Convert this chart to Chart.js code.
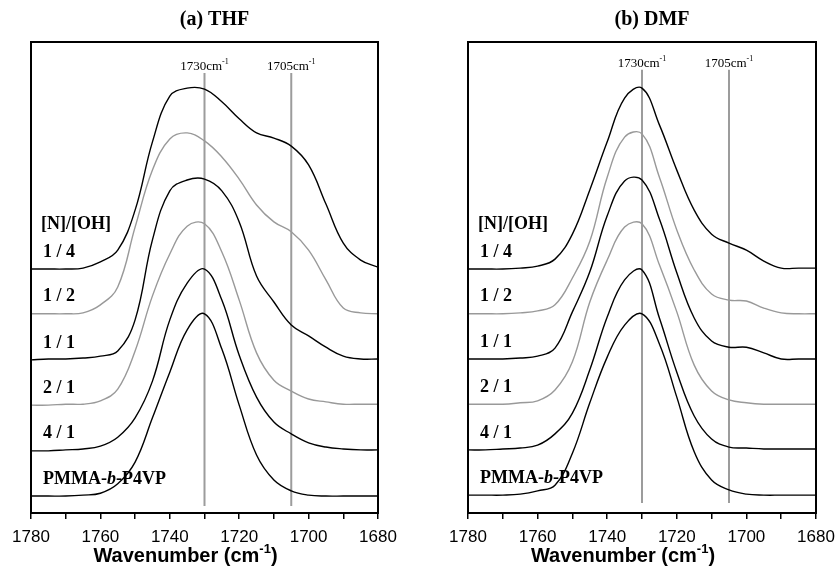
<!DOCTYPE html>
<html><head><meta charset="utf-8">
<script src="https://cdn.jsdelivr.net/npm/chart.js@4.4.0/dist/chart.umd.min.js"></script>
<style>
html,body{margin:0;padding:0;background:#fff;}
body{width:837px;height:569px;position:relative;overflow:hidden;}
canvas{position:absolute;top:0;}
</style>
</head><body>
<canvas id="c1" width="420" height="569" style="left:0"></canvas>
<canvas id="c2" width="417" height="569" style="left:420px"></canvas>
<script>
// Wavenumber grid (cm^-1)
const wavenumbers = [1780,1775,1770,1765,1760,1755,1750,1745,1740,1735,1730,1725,1720,1715,1710,1705,1700,1695,1690,1685,1680];
const seriesLabels = ['1 / 4','1 / 2','1 / 1','2 / 1','4 / 1','PMMA-b-P4VP'];
const seriesColors = ['#000000','#999999','#000000','#999999','#000000','#000000'];

// (a) THF — stacked absorbance (a.u.)
const thf_1_4  = [51.8,51.8,51.8,52.0,53.3,55.8,64.3,78.8,88.5,90.2,90.0,87.3,83.7,80.7,79.6,77.9,73.9,65.6,57.3,53.7,52.2];
const thf_1_2  = [42.3,42.3,42.3,42.5,44.2,48.0,60.7,72.8,79.4,80.7,79.0,75.6,70.9,65.4,61.8,59.7,55.8,49.5,43.5,42.5,42.3];
const thf_1_1  = [32.5,32.7,32.7,32.9,33.3,34.4,41.0,58.0,68.4,70.7,70.9,68.4,61.8,50.3,44.8,39.9,37.6,35.2,33.3,32.7,32.7];
const thf_2_1  = [22.9,22.9,23.1,23.1,23.8,26.3,34.4,46.1,55.0,60.9,61.4,55.4,45.2,34.0,28.2,25.9,24.2,23.6,23.1,23.1,23.1];
const thf_4_1  = [13.2,13.2,13.4,13.6,14.2,16.1,20.2,28.0,41.0,48.8,51.8,45.2,33.5,24.6,19.3,16.8,14.9,14.0,13.6,13.4,13.4];
const thf_pmma = [3.6,3.6,3.6,3.8,4.2,6.2,10.8,20.2,29.9,38.9,42.3,34.8,22.9,12.3,7.0,4.7,3.8,3.6,3.6,3.6,3.6];

// (b) DMF — stacked absorbance (a.u.)
const dmf_1_4  = [51.8,51.8,51.8,52.0,52.4,53.9,59.2,68.6,78.8,88.1,90.2,82.4,72.8,64.3,59.2,57.3,55.8,53.5,52.0,52.0,52.0];
const dmf_1_2  = [42.3,42.3,42.3,42.5,42.9,44.2,49.9,57.7,71.3,79.8,80.5,71.3,60.1,51.6,46.5,45.2,45.0,43.5,42.5,42.3,42.3];
const dmf_1_1  = [32.7,32.7,32.7,32.9,33.3,35.0,42.7,51.2,63.1,70.5,70.7,62.4,51.0,41.4,36.5,35.2,35.2,34.0,32.7,32.7,32.7];
const dmf_2_1  = [23.1,23.1,23.1,23.4,23.8,26.1,32.1,44.8,53.7,60.7,61.4,52.7,42.7,31.4,25.9,24.0,23.4,23.1,23.1,23.1,23.1];
const dmf_4_1  = [13.4,13.4,13.6,13.8,14.4,16.8,21.2,30.4,41.6,49.5,51.6,41.4,29.9,20.6,15.7,14.0,13.8,13.6,13.6,13.6,13.6];
const dmf_pmma = [3.8,3.8,3.8,4.0,4.7,5.9,12.7,23.4,33.1,39.9,42.3,35.9,24.6,13.0,7.0,4.9,4.0,3.8,3.8,3.8,3.8];

// Reference band positions (cm^-1) and vertical extent (a.u.)
const refLines = [1730, 1705];
const thfRefSpan = [1.5, 93.4];
const dmfRefSpan = [2.1, 94.1];

const xTickMin = 1680, xTickMax = 1780, xTickStep = 10, xLabelStep = 20;

const SERIF = '"Liberation Serif","Times New Roman",serif';
const SANS = '"Liberation Sans",Arial,sans-serif';

function decorPlugin(title){
  return {
    id:'decor',
    afterDraw(chart){
      const ctx = chart.ctx, a = chart.chartArea;
      const xs = chart.scales.x, ys = chart.scales.y;
      ctx.save();
      // frame
      ctx.strokeStyle = '#000'; ctx.lineWidth = 2;
      ctx.strokeRect(a.left, a.top, a.right - a.left, a.bottom - a.top);
      // panel title
      ctx.fillStyle = '#000';
      ctx.font = 'bold 20px ' + SERIF;
      ctx.textAlign = 'center'; ctx.textBaseline = 'middle';
      ctx.fillText(title, (a.left + a.right)/2 + 10, 20);
      // ref line labels
      const span = chart.options.plugins.decor.span;
      refLines.forEach(w => {
        const x = xs.getPixelForValue(w);
        const y = ys.getPixelForValue(span[1]) - 3;
        ctx.font = '13px ' + SERIF;
        const t1 = w + 'cm';
        const w1 = ctx.measureText(t1).width;
        ctx.font = '8px ' + SERIF;
        const w2 = ctx.measureText('-1').width;
        const x0 = x - (w1 + w2)/2;
        ctx.textAlign = 'left'; ctx.textBaseline = 'alphabetic';
        ctx.font = '13px ' + SERIF; ctx.fillStyle = '#000';
        ctx.fillText(t1, x0, y);
        ctx.font = '8px ' + SERIF;
        ctx.fillText('-1', x0 + w1, y - 6);
      });
      // series labels
      const data = chart.options.plugins.decor.series;
      ctx.textAlign = 'left'; ctx.textBaseline = 'middle';
      const lx = a.left + 12;
      data.forEach((s, i) => {
        const y = ys.getPixelForValue(s[0]) - 17;
        if (i === data.length - 1) {
          ctx.font = 'bold 18px ' + SERIF;
          let x = lx;
          ctx.fillText('PMMA-', x, y); x += ctx.measureText('PMMA-').width;
          ctx.font = 'italic bold 18px ' + SERIF;
          ctx.fillText('b', x, y); x += ctx.measureText('b').width;
          ctx.font = 'bold 18px ' + SERIF;
          ctx.fillText('-P4VP', x, y);
        } else {
          ctx.font = 'bold 18px ' + SERIF;
          ctx.fillText(seriesLabels[i], lx, y);
        }
        if (i === 0) {
          ctx.font = 'bold 18px ' + SERIF;
          ctx.fillText('[N]/[OH]', a.left + 10, ys.getPixelForValue(s[0]) - 45);
        }
      });
      // axis title
      const cx = (a.left + a.right)/2 - 19, cy = 555;
      ctx.font = 'bold 20px ' + SANS;
      const p1 = 'Wavenumber (cm', p3 = ')';
      const w1 = ctx.measureText(p1).width, w3 = ctx.measureText(p3).width;
      ctx.font = 'bold 13px ' + SANS;
      const w2 = ctx.measureText('-1').width;
      let x0 = cx - (w1 + w2 + w3)/2;
      ctx.textAlign = 'left'; ctx.textBaseline = 'alphabetic';
      ctx.font = 'bold 20px ' + SANS;
      ctx.fillText(p1, x0, cy + 7);
      ctx.font = 'bold 13px ' + SANS;
      ctx.fillText('-1', x0 + w1, cy - 2);
      ctx.font = 'bold 20px ' + SANS;
      ctx.fillText(p3, x0 + w1 + w2, cy + 7);
      ctx.restore();
    }
  };
}

function makePanel(id, title, series, span, padL, padR){
  const datasets = series.map((s, i) => ({
    data: wavenumbers.map((w, j) => ({x: w, y: s[j]})),
    borderColor: seriesColors[i], borderWidth: 1.4, pointRadius: 0,
    tension: 0.4, fill: false
  }));
  refLines.forEach(w => datasets.push({
    data: [{x: w, y: span[0]}, {x: w, y: span[1]}],
    borderColor: '#9c9c9c', borderWidth: 2, pointRadius: 0, fill: false
  }));
  return new Chart(document.getElementById(id), {
    type: 'line',
    data: { datasets },
    options: {
      responsive: false, animation: false, devicePixelRatio: 1,
      layout: { padding: { left: padL, right: padR, top: 42, bottom: 0 } },
      plugins: { legend: {display:false}, tooltip: {enabled:false}, title: {display:false},
        decor: { span: span, series: series } },
      scales: {
        x: {
          type: 'linear', reverse: true, min: xTickMin, max: xTickMax,
          ticks: { stepSize: xTickStep, autoSkip: false, maxRotation: 0, color: '#000', padding: 8,
            font: { family: SANS, size: 17 },
            callback: v => (v % xLabelStep === 0 ? String(v) : '') },
          grid: { display: true, drawOnChartArea: false, drawTicks: true, tickLength: 6, color: '#000', lineWidth: 1.5 },
          border: { display: true, color: '#000', width: 2 },
          afterFit: s => { s.height = 56; s.paddingLeft = 0; s.paddingRight = 0; }
        },
        y: { display: false, min: 0, max: 100 }
      }
    },
    plugins: [decorPlugin(title)]
  });
}

makePanel('c1', '(a) THF', [thf_1_4, thf_1_2, thf_1_1, thf_2_1, thf_4_1, thf_pmma], thfRefSpan, 31, 42);
makePanel('c2', '(b) DMF', [dmf_1_4, dmf_1_2, dmf_1_1, dmf_2_1, dmf_4_1, dmf_pmma], dmfRefSpan, 48, 21);
</script>
</body></html>
